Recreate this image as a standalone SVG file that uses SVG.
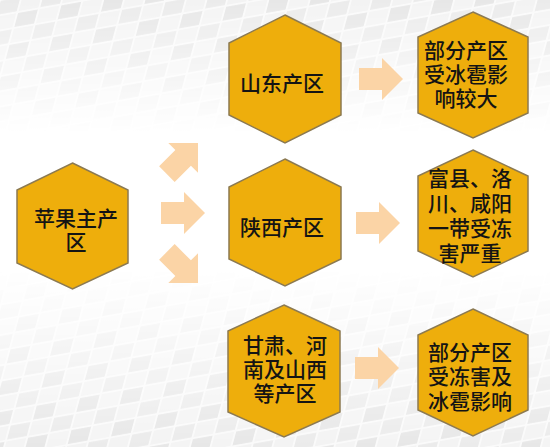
<svg xmlns="http://www.w3.org/2000/svg" xmlns:xlink="http://www.w3.org/1999/xlink" width="550" height="447" viewBox="0 0 550 447">
<style>
.hex{fill:#EEAE0C;stroke:#8C7A52;stroke-width:1.5}
.arr{fill:#FBD4A6}
.t{font-family:"Noto Sans CJK SC","Noto Sans CJK JP",sans-serif;font-size:21px;font-weight:500;fill:#141414;text-anchor:middle}
</style>
<defs>
<pattern id="tiles" width="44" height="30" patternUnits="userSpaceOnUse" patternTransform="rotate(-10) skewX(-25)">
<rect width="44" height="30" fill="#fafafa"/>
<rect x="1" y="1" width="20" height="13" fill="#ebebeb"/>
<rect x="23" y="1" width="20" height="13" fill="#f3f3f3"/>
<rect x="1" y="16" width="20" height="13" fill="#f4f4f4"/>
<rect x="23" y="16" width="20" height="13" fill="#e7e7e7"/>
</pattern>
<linearGradient id="fade" x1="0" y1="0" x2="0" y2="1">
<stop offset="0" stop-color="#fff"/>
<stop offset="0.3" stop-color="#000"/>
<stop offset="0.6" stop-color="#000"/>
<stop offset="1" stop-color="#fff"/>
</linearGradient>
<mask id="m"><rect width="550" height="447" fill="url(#fade)"/></mask>
<path id="arrow" d="M0,0 L-21,-21 L-21,-11 L-44,-11 L-44,11 L-21,11 L-21,21 Z"/>
</defs>
<rect width="550" height="447" fill="#fff"/>
<rect width="550" height="447" fill="url(#tiles)" mask="url(#m)"/>

<g id="connectors" class="arr">
<use xlink:href="#arrow" href="#arrow" transform="translate(198,143) rotate(-45)"/>
<use xlink:href="#arrow" href="#arrow" transform="translate(205,213)"/>
<use xlink:href="#arrow" href="#arrow" transform="translate(198,283) rotate(45)"/>
<use xlink:href="#arrow" href="#arrow" transform="translate(403,79)"/>
<use xlink:href="#arrow" href="#arrow" transform="translate(400,223)"/>
<use xlink:href="#arrow" href="#arrow" transform="translate(399,368)"/>
</g>

<g id="node-main">
<polygon class="hex" points="72.5,163 128,190 128,263 72.5,289 17,263 17,190"/>
<text class="t"><tspan x="76" y="226">苹果主产</tspan><tspan x="76" y="250">区</tspan></text>
</g>

<g id="node-shandong">
<polygon class="hex" points="285,15 341,43 341,115 285,143 229,115 229,43"/>
<text class="t" x="282" y="91">山东产区</text>
</g>

<g id="node-shaanxi">
<polygon class="hex" points="285,159 341,187 341,259 285,286 229,259 229,187"/>
<text class="t" x="282" y="235">陕西产区</text>
</g>

<g id="node-gansu">
<polygon class="hex" points="284,305 340,331 340,412 284,437 228,412 228,331"/>
<text class="t"><tspan x="285" y="353">甘肃、河</tspan><tspan x="285" y="377">南及山西</tspan><tspan x="285" y="401">等产区</tspan></text>
</g>

<g id="node-r1">
<polygon class="hex" points="473,12 528,37 528,113 473,138 418,113 418,37"/>
<text class="t"><tspan x="466" y="58">部分产区</tspan><tspan x="466" y="82">受冰雹影</tspan><tspan x="466" y="106">响较大</tspan></text>
</g>

<g id="node-r2">
<polygon class="hex" points="473,150 528,176 528,251 473,277 418,251 418,176"/>
<text class="t"><tspan x="470" y="186">富县、洛</tspan><tspan x="470" y="211">川、咸阳</tspan><tspan x="470" y="236">一带受冻</tspan><tspan x="470" y="261">害严重</tspan></text>
</g>

<g id="node-r3">
<polygon class="hex" points="473,309 528,335 528,410 473,436 418,410 418,335"/>
<text class="t"><tspan x="470" y="360">部分产区</tspan><tspan x="470" y="384">受冻害及</tspan><tspan x="470" y="409">冰雹影响</tspan></text>
</g>
</svg>
